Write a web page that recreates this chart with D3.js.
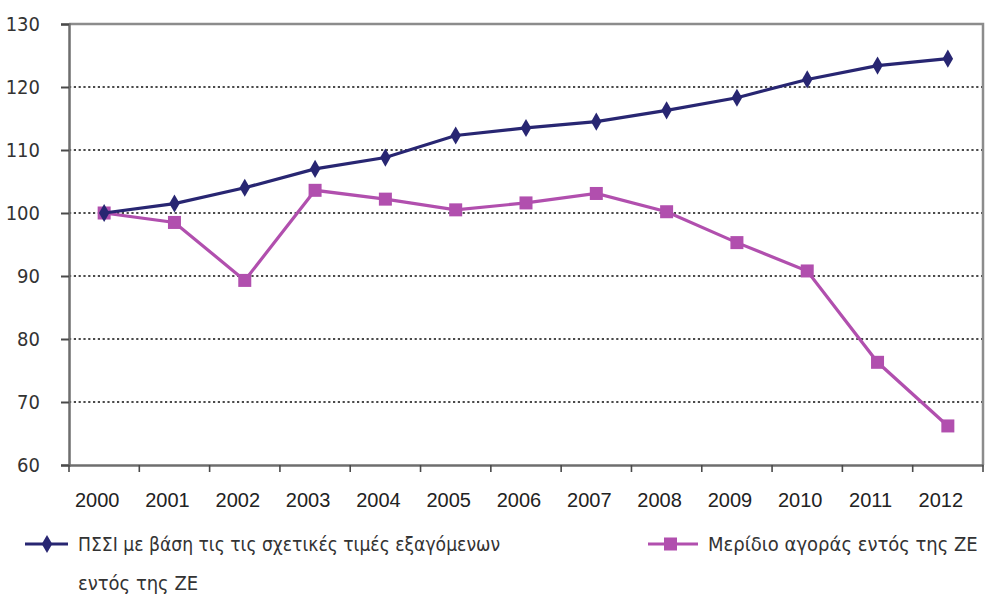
<!DOCTYPE html>
<html>
<head>
<meta charset="utf-8">
<script src="https://cdn.jsdelivr.net/npm/d3@7"></script>
<style>
  html, body { margin: 0; padding: 0; background: #fff; }
  svg { display: block; font-family: "DejaVu Sans Condensed", "Liberation Sans", sans-serif; }
</style>
</head>
<body>
<svg id="chart" width="985" height="596"></svg>
<script>
// Years on the category axis
const years = ["2000","2001","2002","2003","2004","2005","2006","2007","2008","2009","2010","2011","2012"];
// Real effective exchange rate based on relative export prices within the euro area (2000 = 100)
const reerValues = [100, 101.5, 104, 107, 108.8, 112.3, 113.5, 114.5, 116.3, 118.3, 121.2, 123.4, 124.5];
// Market share within the euro area (2000 = 100)
const shareValues = [100, 98.5, 89.3, 103.6, 102.2, 100.5, 101.6, 103.1, 100.2, 95.3, 90.8, 76.3, 66.2];
// Value axis ticks
const yTicks = [60, 70, 80, 90, 100, 110, 120, 130];
// Legend labels
const reerLabel = ["ΠΣΣΙ με βάση τις τις σχετικές τιμές εξαγόμενων", "εντός της ΖΕ"];
const shareLabel = "Μερίδιο αγοράς εντός της ΖΕ";

const navy = "#282672";
const magenta = "#b14fae";
const axisGrey = "#6e6e6e";

const svg = d3.select("#chart");
const x0 = 69, x1 = 983, y0 = 24, y1 = 465;

const x = d3.scaleBand().domain(years).range([x0, x1]);
const y = d3.scaleLinear().domain([60, 130]).range([y1, y0]);
const cx = d => x(d) + x.bandwidth() / 2;

// dotted horizontal gridlines
svg.append("g")
  .selectAll("line")
  .data(yTicks.filter(t => t > 60 && t < 130))
  .join("line")
  .attr("x1", x0).attr("x2", x1)
  .attr("y1", d => y(d)).attr("y2", d => y(d))
  .attr("stroke", "#4a4a4a")
  .attr("stroke-width", 2)
  .attr("stroke-dasharray", "2.2,2.6");

// plot frame: top and right edges
svg.append("path")
  .attr("d", `M${x0},${y0}H${x1}V${y1}`)
  .attr("fill", "none")
  .attr("stroke", "#8c8c8c")
  .attr("stroke-width", 2.5);

// value axis
const yAxis = svg.append("g")
  .attr("transform", `translate(${x0},0)`)
  .call(d3.axisLeft(y).tickValues(yTicks).tickSize(8).tickPadding(21).tickFormat(d3.format("d")));
yAxis.select(".domain").attr("stroke", axisGrey).attr("stroke-width", 2.5);
yAxis.selectAll(".tick line").attr("stroke", "#4a4a4a").attr("stroke-width", 2);
yAxis.selectAll(".tick text")
  .attr("fill", "#333").attr("font-size", 20)
  .attr("font-family", "DejaVu Sans Condensed, sans-serif");

// category axis with ticks on the band boundaries
const xAxis = svg.append("g")
  .attr("transform", `translate(0,${y1})`)
  .call(d3.axisBottom(x).tickSize(0).tickPadding(0));
xAxis.select(".domain").attr("stroke", axisGrey).attr("stroke-width", 2.5);
xAxis.selectAll(".tick text")
  .attr("fill", "#222").attr("font-size", 20)
  .attr("x", -7).attr("y", 35).attr("dy", "0.35em");
svg.append("g")
  .selectAll("line")
  .data(years.concat(["end"]))
  .join("line")
  .attr("x1", (d, i) => i < years.length ? x(d) : x1)
  .attr("x2", (d, i) => i < years.length ? x(d) : x1)
  .attr("y1", y1).attr("y2", y1 + 7)
  .attr("stroke", "#4a4a4a").attr("stroke-width", 1.6);

const line = d3.line().x((d, i) => cx(years[i])).y(d => y(d));

// market share series
svg.append("path")
  .datum(shareValues)
  .attr("d", line)
  .attr("fill", "none").attr("stroke", magenta).attr("stroke-width", 3.2);
svg.append("g")
  .selectAll("rect")
  .data(shareValues)
  .join("rect")
  .attr("x", (d, i) => cx(years[i]) - 6.5)
  .attr("y", d => y(d) - 6.5)
  .attr("width", 13).attr("height", 13)
  .attr("fill", magenta);

// REER series
svg.append("path")
  .datum(reerValues)
  .attr("d", line)
  .attr("fill", "none").attr("stroke", navy).attr("stroke-width", 3.2);
const diamond = d3.symbol().type(d3.symbolDiamond).size(95);
svg.append("g")
  .selectAll("path")
  .data(reerValues)
  .join("path")
  .attr("transform", (d, i) => `translate(${cx(years[i])},${y(d)})`)
  .attr("d", diamond)
  .attr("fill", navy);

// legend
const lg = svg.append("g").attr("font-size", 20).attr("fill", "#333");
const ly = 544;
lg.append("line").attr("x1", 25).attr("x2", 68).attr("y1", ly).attr("y2", ly)
  .attr("stroke", navy).attr("stroke-width", 3);
lg.append("path").attr("transform", `translate(47,${ly})`).attr("d", diamond).attr("fill", navy);
lg.append("text").attr("x", 78).attr("y", ly).attr("dy", "0.35em")
  .attr("textLength", 422).attr("lengthAdjust", "spacingAndGlyphs").text(reerLabel[0]);
lg.append("text").attr("x", 78).attr("y", ly + 39).attr("dy", "0.35em").text(reerLabel[1]);

lg.append("line").attr("x1", 648).attr("x2", 698).attr("y1", ly).attr("y2", ly)
  .attr("stroke", magenta).attr("stroke-width", 3);
lg.append("rect").attr("x", 664).attr("y", ly - 6.5).attr("width", 13).attr("height", 13).attr("fill", magenta);
lg.append("text").attr("x", 708).attr("y", ly).attr("dy", "0.35em").text(shareLabel);
</script>
</body>
</html>
